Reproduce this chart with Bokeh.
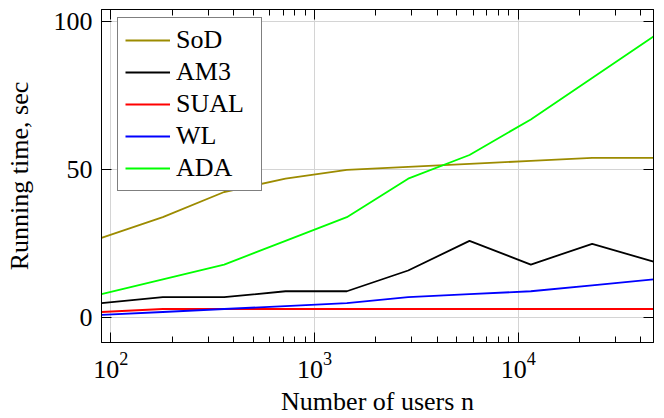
from bokeh.plotting import figure
from bokeh.models import FixedTicker, LogAxis, LinearAxis, Range1d, LogTickFormatter
from bokeh.embed import file_html
from bokeh.resources import INLINE

n_users = [90, 180, 360, 720, 1440, 2880, 5760, 11520, 23040, 46080]
sod = [27, 34, 42.5, 47, 50, 51, 52, 53, 54, 54]
am3 = [5, 7, 7, 9, 9, 16, 26, 18, 25, 19]
sual = [2, 3, 3, 3, 3, 3, 3, 3, 3, 3]
wl = [1, 2, 3, 4, 5, 7, 8, 9, 11, 13]
ada = [8, 13, 18, 26, 34, 47, 55, 67, 81, 95]

series_names = ["SoD", "AM3", "SUAL", "WL", "ADA"]
series_values = [sod, am3, sual, wl, ada]
series_colors = ["#9c8b00", "#000000", "#ff0000", "#0000ff", "#00ff00"]

x_major = [100, 1000, 10000]
x_minor = [m * d for d in (100, 1000, 10000) for m in range(2, 10)]
y_major = [0, 50, 100]

FONT = "Liberation Serif"
FS = "26px"

p = figure(width=660, height=418, x_axis_type="log",
           x_range=Range1d(90, 46080), y_range=Range1d(-8.3, 104.1),
           output_backend="svg", toolbar_location=None,
           min_border_left=101, min_border_right=7, min_border_top=9, min_border_bottom=75)

for name, vals, col in zip(series_names, series_values, series_colors):
    p.line(n_users, vals, line_color=col, line_width=1.8, legend_label=name)

xt = FixedTicker(ticks=x_major, minor_ticks=x_minor)
yt = FixedTicker(ticks=y_major, minor_ticks=[])

bottom = p.below[0]
left = p.left[0]
bottom.ticker = xt
left.ticker = yt
bottom.formatter = LogTickFormatter()

top = LogAxis(ticker=xt, major_label_text_font_size="1px", major_label_standoff=0,
              major_label_text_color=None)
right = LinearAxis(ticker=yt, major_label_text_font_size="1px", major_label_standoff=0,
                   major_label_text_color=None)
p.add_layout(top, "above")
p.add_layout(right, "right")

for ax in [bottom, left, top, right]:
    ax.major_tick_in = 10
    ax.major_tick_out = 0
    ax.minor_tick_in = 6
    ax.minor_tick_out = 0
    ax.axis_line_color = "black"
    ax.major_tick_line_color = "black"
    ax.minor_tick_line_color = "black"

for ax in [bottom, left]:
    ax.major_label_text_font = FONT
    ax.major_label_text_font_size = FS
    ax.major_label_text_color = "black"
    ax.axis_label_text_font = FONT
    ax.axis_label_text_font_size = FS
    ax.axis_label_text_font_style = "normal"
    ax.axis_label_text_color = "black"

bottom.axis_label = "Number of users n"
left.axis_label = "Running time, sec"
bottom.major_label_standoff = 10
left.major_label_standoff = 9
bottom.axis_label_standoff = 6
left.axis_label_standoff = 17

p.xgrid.ticker = xt
p.ygrid.ticker = yt
p.xgrid.grid_line_color = "#d4d4d4"
p.ygrid.grid_line_color = "#d4d4d4"
p.xgrid.grid_line_width = 1
p.ygrid.grid_line_width = 1

p.outline_line_color = "black"
p.outline_line_width = 1
p.background_fill_color = "white"
p.border_fill_color = "white"

lg = p.legend[0]
lg.location = (16, 151)
lg.label_text_font = FONT
lg.label_text_font_size = FS
lg.label_text_color = "black"
lg.glyph_width = 45
lg.glyph_height = 26
lg.label_height = 26
lg.label_width = 78
lg.label_standoff = 6
lg.spacing = 2
lg.padding = 7
lg.margin = 0
lg.border_line_color = "black"
lg.border_line_width = 1
lg.background_fill_alpha = 1

open("out.html", "w").write(file_html(p, INLINE))
